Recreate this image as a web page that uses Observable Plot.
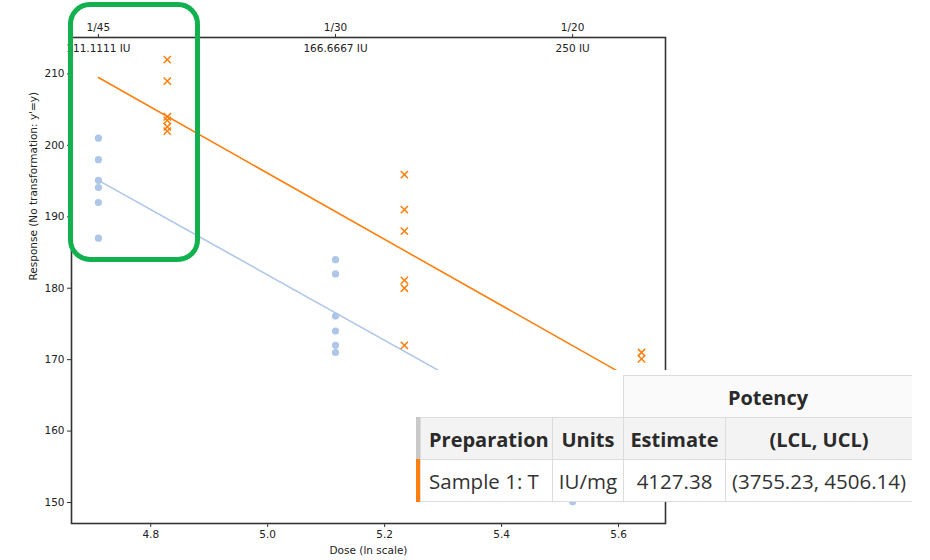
<!DOCTYPE html>
<html>
<head>
<meta charset="utf-8">
<script src="https://cdn.jsdelivr.net/npm/d3@7"></script>
<script src="https://cdn.jsdelivr.net/npm/@observablehq/plot@0.6"></script>
<style>
  html, body { margin: 0; padding: 0; background: #fff; }
  #wrap { position: relative; width: 930px; height: 560px; overflow: hidden; background: #fff; }
  #chart { position: absolute; left: 0; top: 0; }
  .hl { position: absolute; left: 68px; top: 2px; width: 132px; height: 260px; box-sizing: border-box;
        border: 5.5px solid #10b14e; border-radius: 22px; pointer-events: none; }
  .tbl { position: absolute; left: 413px; top: 370px; width: 500px; height: 132px; background: #fff;
         font-family: "Open Sans", sans-serif; color: #333; }
  .cell { position: absolute; box-sizing: border-box; display: flex; align-items: center; justify-content: center;
          border-top: 1px solid #dcdcdc; border-left: 1px solid #dcdcdc; font-size: 20.5px; white-space: nowrap; }
  .hdr { font-weight: 700; color: #2a2a2a; background: #f3f3f3; font-size: 20px; }
  .left { justify-content: flex-start; padding-left: 8px; }
  .bar { position: absolute; width: 4px; }
</style>
</head>
<body>
<div id="wrap">
  <div id="chart"></div>
  <div class="hl"></div>
  <div class="tbl" id="tbl"></div>
</div>
<script>
// ---- data ----
const standardDose = [111.1111,111.1111,111.1111,111.1111,111.1111,111.1111,
                      166.6667,166.6667,166.6667,166.6667,166.6667,166.6667,
                      250,250,250,250,250,250];
const standardResp = [201,198,195.1,194.1,192,187,
                      184,182,176.1,174,172,171,
                      168,164,161,159,155,150.1];
const sampleDose = [125,125,125,125,125,125,
                    187.5,187.5,187.5,187.5,187.5,187.5,
                    281.25,281.25,281.25,281.25,281.25,281.25];
const sampleResp = [212,209,204,203.5,202.6,202,
                    195.9,191,188,181.1,180,172,
                    171,170.1,167,164,162,158];
const standardFitDose = [111.1111, 250];
const standardFitResp = [195.1, 158.0];
const sampleFitDose = [111.1111, 281.25];
const sampleFitResp = [209.5, 166.5];
const topDoses = [111.1111, 166.6667, 250];
const topFractions = ["1/45", "1/30", "1/20"];
const topIU = ["111.1111 IU", "166.6667 IU", "250 IU"];
const xTicks = [4.8, 5.0, 5.2, 5.4, 5.6];
const yTicks = [150, 160, 170, 180, 190, 200, 210];
const tableHeader = ["Preparation", "Units", "Estimate", "(LCL, UCL)"];
const tableRow = ["Sample 1: T", "IU/mg", "4127.38", "(3755.23, 4506.14)"];
const groupHeader = "Potency";

// ---- build ----
const stdPts = standardDose.map((d, i) => ({x: Math.log(d), y: standardResp[i]}));
const smpPts = sampleDose.map((d, i) => ({x: Math.log(d), y: sampleResp[i]}));
const stdFit = standardFitDose.map((d, i) => ({x: Math.log(d), y: standardFitResp[i]}));
const smpFit = sampleFitDose.map((d, i) => ({x: Math.log(d), y: sampleFitResp[i]}));
const topRows = topDoses.map((d, i) => ({x: Math.log(d), frac: topFractions[i], iu: topIU[i]}));
const fracMap = new Map(topRows.map(t => [t.x, t.frac]));

const plot = Plot.plot({
  width: 930, height: 560,
  marginLeft: 71, marginRight: 265, marginTop: 37, marginBottom: 37,
  style: {fontFamily: "DejaVu Sans, sans-serif", fontSize: "10.5px", color: "#222", background: "transparent"},
  x: {type: "linear", domain: [4.6645, 5.6803]},
  y: {type: "linear", domain: [147.06, 215.1]},
  marks: [
    Plot.line(stdFit, {x: "x", y: "y", stroke: "#aec7e8", strokeWidth: 1.6}),
    Plot.line(smpFit, {x: "x", y: "y", stroke: "#ff7f0e", strokeWidth: 1.6}),
    Plot.dot(stdPts, {x: "x", y: "y", r: 3.6, fill: "#aec7e8", stroke: "none"}),
    Plot.dot(smpPts, {x: "x", y: "y", r: 3.4, symbol: "times", stroke: "#ff7f0e", strokeWidth: 1.5}),
    Plot.frame({stroke: "#333", strokeWidth: 1.6}),
    Plot.axisX({anchor: "bottom", ticks: xTicks, tickFormat: d => d.toFixed(1), tickSize: 4, tickPadding: 3, stroke: "#333", label: null}),
    Plot.axisY({anchor: "left", ticks: yTicks, tickSize: 4, tickPadding: 3, stroke: "#333", label: null}),
    Plot.axisX({anchor: "top", ticks: topRows.map(t => t.x), tickFormat: d => fracMap.get(d), tickSize: 4, tickPadding: 3, stroke: "#333", label: null}),
    Plot.text(topRows, {x: "x", text: "iu", frameAnchor: "top", dy: 11.6, lineAnchor: "middle", fill: "#222"}),
    Plot.text(["Dose (ln scale)"], {frameAnchor: "bottom", dy: 27, lineAnchor: "middle", fill: "#222"}),
    Plot.text(["Response (No transformation: y'=y)"], {frameAnchor: "left", dx: -38, rotate: -90, lineAnchor: "middle", fill: "#222"})
  ]
});
document.getElementById("chart").appendChild(plot);

// ---- table overlay ----
const tbl = document.getElementById("tbl");
const ox = 413, oy = 370;
const RIGHT = 912;
function cell(txt, x0, x1, y0, y1, cls) {
  const c = document.createElement("div");
  c.className = "cell " + (cls || "");
  c.style.left = (x0 - ox) + "px"; c.style.top = (y0 - oy) + "px";
  c.style.width = (x1 - x0) + "px"; c.style.height = (y1 - y0) + "px";
  c.textContent = txt;
  tbl.appendChild(c);
  return c;
}
const colX = [420, 552, 623, 725, RIGHT];
const g = cell(groupHeader, 623, RIGHT, 375, 418, "hdr");
g.style.background = "#fafafa";
g.style.paddingLeft = "0px";
tableHeader.forEach((t, i) => {
  cell(t, colX[i], colX[i + 1], 417, 460, "hdr" + (i === 0 ? " left" : ""));
});
tableRow.forEach((t, i) => {
  const c = cell(t, colX[i], colX[i + 1], 459, 502, i === 0 ? "left" : "");
  c.style.borderBottom = "1px solid #dcdcdc";
});
const b1 = document.createElement("div"); b1.className = "bar";
b1.style.left = (416 - ox) + "px"; b1.style.top = (417 - oy) + "px"; b1.style.height = "43px"; b1.style.background = "#c8c8c8";
tbl.appendChild(b1);
const b2 = document.createElement("div"); b2.className = "bar";
b2.style.left = (416 - ox) + "px"; b2.style.top = (459 - oy) + "px"; b2.style.height = "43px"; b2.style.background = "#ff7f0e";
tbl.appendChild(b2);
</script>
</body>
</html>
